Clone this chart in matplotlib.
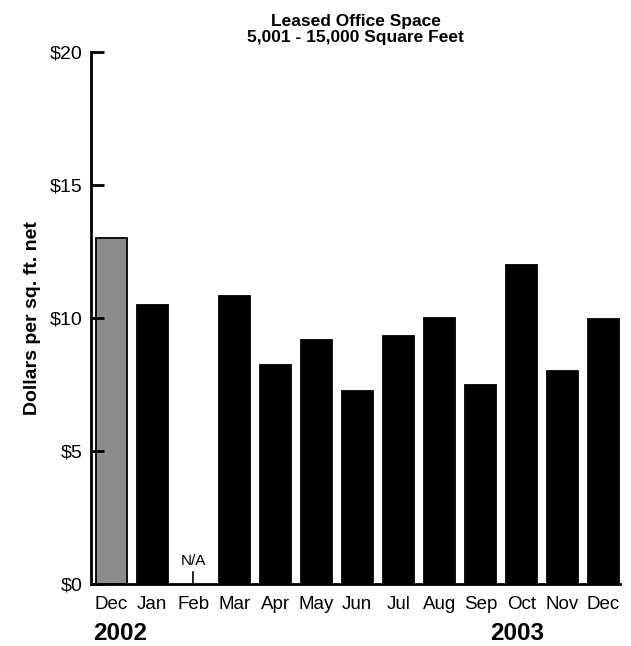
import matplotlib

matplotlib.use("Agg")
import matplotlib.pyplot as plt
import numpy as np

plt.rcParams["font.family"] = ["Liberation Sans", "DejaVu Sans"]

months = ["Dec", "Jan", "Feb", "Mar", "Apr", "May", "Jun", "Jul", "Aug", "Sep", "Oct", "Nov", "Dec"]
rents = [13.0, 10.5, np.nan, 10.83, 8.22, 9.18, 7.25, 9.32, 10.0, 7.48, 12.0, 8.0, 9.96]
colors = ["#8c8c8c"] + ["black"] * 12
years = ["2002", "2003"]

fig = plt.figure(figsize=(6.31, 6.46), dpi=100, facecolor="white")
ax = fig.add_axes([0.144, 0.096, 0.839, 0.8235])

x = np.arange(len(months))
vals = np.array(rents)
ok = ~np.isnan(vals)
ax.bar(x[ok], vals[ok], width=0.75, color=np.array(colors)[ok], edgecolor="black", linewidth=1.3)

# Feb has no data
na = months.index("Feb")
ax.plot([na, na], [0, 0.45], color="black", lw=1.2)
ax.text(na, 0.72, "N/A", ha="center", va="baseline", fontsize=11)

ax.set_ylim(0, 20)
ax.set_xlim(-0.495, 12.41)
ax.set_yticks([0, 5, 10, 15, 20])
ax.set_yticklabels([f"${v}" for v in [0, 5, 10, 15, 20]], fontsize=14)
ax.tick_params(axis="y", direction="in", length=9, width=2, pad=6)
ax.set_xticks(x)
ax.set_xticklabels(months, fontsize=13.5)
ax.tick_params(axis="x", length=0, pad=9)

for side in ["top", "right"]:
    ax.spines[side].set_visible(False)
ax.spines["left"].set_linewidth(2)
ax.spines["bottom"].set_linewidth(2)

ax.set_ylabel("Dollars per sq. ft. net", fontsize=14, fontweight="bold", labelpad=6)
ax.set_title("Leased Office Space\n5,001 - 15,000 Square Feet", fontsize=12.5,
             fontweight="bold", linespacing=1.12, pad=7)

ax.text(0.21, -0.093, years[0], transform=ax.get_xaxis_transform(), ha="center",
        va="center", fontsize=17.5, fontweight="bold")
ax.text(9.9, -0.093, years[1], transform=ax.get_xaxis_transform(), ha="center",
        va="center", fontsize=17.5, fontweight="bold")

fig.savefig("out.png", dpi=100, facecolor="white")
